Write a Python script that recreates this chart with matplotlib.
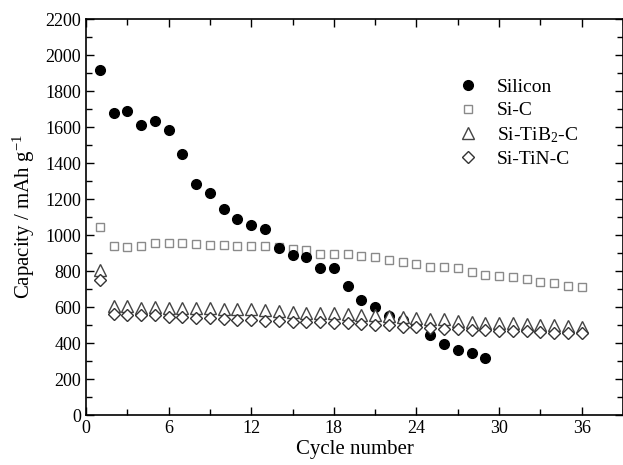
import matplotlib
matplotlib.use('Agg')
import matplotlib.pyplot as plt
from matplotlib.ticker import MultipleLocator

plt.rcParams.update({'font.family': 'serif',
                     'font.serif': ['Liberation Serif', 'DejaVu Serif'],
                     'mathtext.fontset': 'custom',
                     'mathtext.rm': 'Liberation Serif',
                     'mathtext.it': 'Liberation Serif:italic',
                     'font.size': 13})

# Datos
cyc_si = list(range(1, 30))
cap_si = [1915, 1679, 1690, 1611, 1633, 1583, 1452, 1283, 1233, 1144,
          1091, 1057, 1033, 930, 887, 880, 817, 817, 719, 638,
          598, 548, 528, 505, 443, 396, 359, 346, 315]

cyc_36 = list(range(1, 37))
cap_sic = [1043, 937, 934, 939, 954, 955, 956, 950, 947, 943,
           940, 940, 937, 932, 924, 917, 896, 896, 894, 886,
           880, 861, 848, 841, 824, 824, 815, 794, 778, 772,
           765, 756, 741, 735, 717, 711]
cap_tib2 = [806, 606, 606, 596, 598, 594, 593, 593, 593, 591,
            591, 589, 583, 578, 570, 565, 565, 565, 562, 557,
            557, 550, 546, 539, 535, 531, 524, 516, 513, 513,
            509, 506, 502, 498, 494, 491]
cap_tin = [750, 559, 556, 556, 554, 546, 543, 539, 537, 531,
           528, 528, 524, 520, 517, 517, 517, 513, 509, 506,
           502, 500, 491, 487, 484, 480, 476, 472, 472, 469,
           469, 465, 461, 457, 457, 454]

fig = plt.figure(figsize=(6.23, 4.65), dpi=100)
ax = fig.add_axes([86/623, 50/465, 537/623, 396/465])

ax.plot(cyc_36, cap_sic, 's', mfc='white', mec='#8a8a8a', mew=1.0, ms=6,
        label='Si-C', zorder=2)
ax.plot(cyc_si, cap_si, 'o', color='black', ms=7, label='Silicon', zorder=3)
ax.plot(cyc_36, cap_tib2, '^', mfc='white', mec='#444444', mew=1.0, ms=8,
        label='Si-TiB$_2$-C', zorder=4)
ax.plot(cyc_36, cap_tin, 'D', mfc='white', mec='#333333', mew=1.0, ms=6.5,
        label='Si-TiN-C', zorder=5)

ax.set_xlim(0, 39)
ax.set_ylim(0, 2200)
ax.xaxis.set_major_locator(MultipleLocator(6))
ax.xaxis.set_minor_locator(MultipleLocator(3))
ax.yaxis.set_major_locator(MultipleLocator(200))
ax.yaxis.set_minor_locator(MultipleLocator(100))
ax.tick_params(which='both', direction='in', top=True, right=True, labelsize=13)
ax.tick_params(which='major', length=6, width=1)
ax.tick_params(which='minor', length=4, width=1)
for s in ax.spines.values():
    s.set_linewidth(1.2)

ax.set_xlabel('Cycle number', fontsize=15, labelpad=2)
ax.set_ylabel('Capacity / mAh g$^{-1}$', fontsize=15, labelpad=6)

h, l = ax.get_legend_handles_labels()
orden = [1, 0, 2, 3]
ax.legend([h[i] for i in orden], [l[i] for i in orden],
          loc='upper left', bbox_to_anchor=(0.66, 0.87), frameon=False,
          fontsize=14, handletextpad=0.5, labelspacing=0.3, borderaxespad=0)

fig.savefig('out.png', dpi=100)
